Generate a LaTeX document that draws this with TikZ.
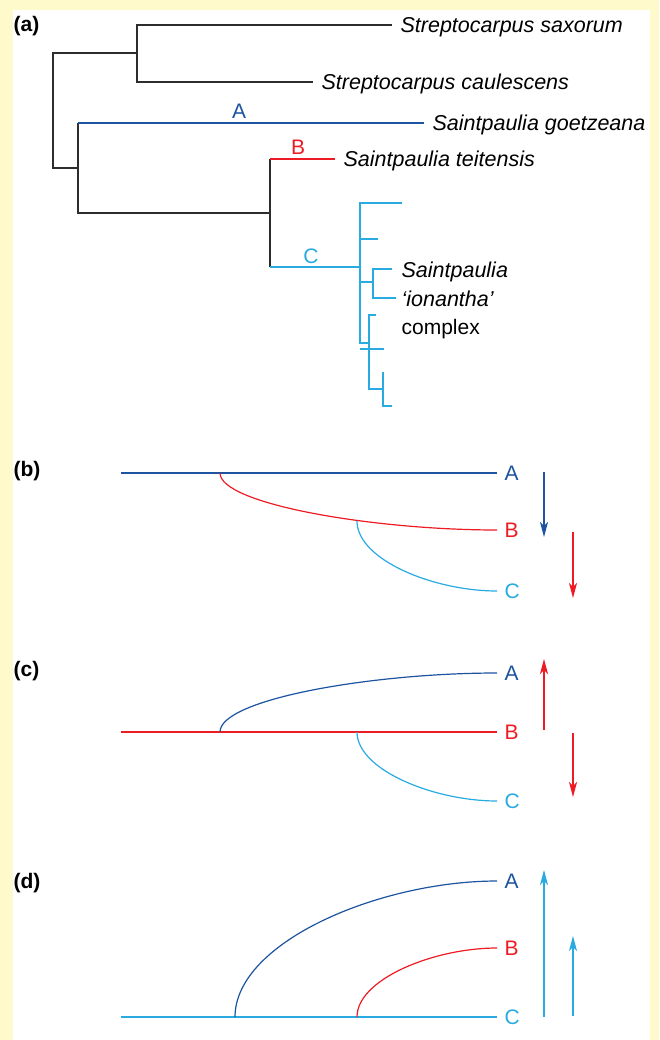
\documentclass[tikz,border=0pt]{standalone}
\usepackage{fontspec}
\setmainfont{Liberation Sans}
\usepackage{xcolor}
\definecolor{bgyellow}{RGB}{255,250,204}
\definecolor{cladeA}{RGB}{28,84,160}
\definecolor{cladeB}{RGB}{237,28,36}
\definecolor{cladeC}{RGB}{41,171,226}
\definecolor{treegray}{RGB}{45,45,45}
\usepackage{tikz}
\usetikzlibrary{arrows.meta}

\begin{document}
\begin{tikzpicture}[x=1pt,y=-1pt,every path/.style={line width=1.2pt},
  lbl/.style={anchor=west,inner xsep=7pt,inner ysep=0pt,text height=15pt,text depth=0pt,
    font=\fontsize{21}{25}\selectfont},
  taxon/.style={lbl,inner xsep=8pt,font=\fontsize{21.5}{26}\selectfont\itshape},
  cladelbl/.style={lbl,anchor=center,inner xsep=0pt},
  panel/.style={anchor=west,inner sep=0pt,text height=15pt,text depth=0pt,
    font=\fontsize{21}{25}\selectfont\bfseries},
  trend/.style={-{Stealth[length=15pt,width=8pt,inset=4pt]}}]
 \useasboundingbox (0,0) rectangle (659,1040);
 \fill[bgyellow] (0,0) rectangle (659,1040);
 \fill[white] (13,10) rectangle (650,1040);

 % (a) the tree
 \node[panel] (la) at (13,24) {(a)};
 \node[taxon] (saxorum) at (392,25) {Streptocarpus saxorum};
 \node[taxon] (caulescens) at (313,82) {Streptocarpus caulescens};
 \node[taxon] (goetzeana) at (424,123) {Saintpaulia goetzeana};
 \node[taxon] (teitensis) at (335,159) {Saintpaulia teitensis};
 \node[taxon] (ion1) at (393,270) {Saintpaulia};
 \node[taxon] (ion2) at (393,299) {‘ionantha’};
 \node[lbl,inner xsep=8pt] (ion3) at (393,327) {complex};
 \draw[treegray] (saxorum.west) -- (137,25) -- (137,82) -- (caulescens.west);
 \draw[treegray] (137,53) -- (53,53) -- (53,168) -- (78,168);
 \draw[treegray] (78,123) -- (78,213) -- (270,213);
 \draw[treegray] (270,159) -- (270,267);
 \draw[cladeA] (78,123) -- (goetzeana.west);
 \draw[cladeB] (270,159) -- (teitensis.west);
 \draw[cladeC] (270,267) -- (360,267);
 \node[cladelbl,text=cladeA] (tA) at (239,111) {A};
 \node[cladelbl,text=cladeB] (tB) at (298,147) {B};
 \node[cladelbl,text=cladeC] (tC) at (311,256) {C};
 \draw[cladeC] (402,203) -- (360,203) -- (360,343) -- (369,343);
 \foreach \Y/\X in {239/378,282/373,349/384}
   \draw[cladeC] (360,\Y) -- (\X,\Y);
 \draw[cladeC] (392,269) -- (373,269) -- (373,298) -- (396,298);
 \draw[cladeC] (376,315) -- (369,315) -- (369,389) -- (383,389);
 \draw[cladeC] (383,372) -- (383,406) -- (392,406);

 % (b)
 \node[panel] (lb) at (13,469) {(b)};
 \node[lbl,text=cladeA] (bA) at (497,473) {A};
 \node[lbl,text=cladeB] (bB) at (497,530) {B};
 \node[lbl,text=cladeC] (bC) at (497,591) {C};
 \draw[cladeA] (121,473) coordinate (b0) -- (bA.west);
 \draw[cladeB] (220,473) coordinate (b1) .. controls (220,504) and (373,530) .. (bB.west);
 \draw[cladeC] (357,521) coordinate (b2) .. controls (357,560) and (434,591) .. (bC.west);
 \draw[cladeA,trend] (544,472) coordinate (bs1) -- (544,537) coordinate (be1);
 \draw[cladeB,trend] (573,532) coordinate (bs2) -- (573,598) coordinate (be2);

 % (c)
 \node[panel] (lc) at (13,669) {(c)};
 \node[lbl,text=cladeA] (cA) at (497,673) {A};
 \node[lbl,text=cladeB] (cB) at (497,732) {B};
 \node[lbl,text=cladeC] (cC) at (497,801) {C};
 \draw[cladeB] (121,732) coordinate (c0) -- (cB.west);
 \draw[cladeA] (220,732) coordinate (c1) .. controls (220,699) and (373,673) .. (cA.west);
 \draw[cladeC] (357,732) coordinate (c2) .. controls (357,770) and (434,801) .. (cC.west);
 \draw[cladeB,trend] (544,730) coordinate (cs1) -- (544,659) coordinate (ce1);
 \draw[cladeB,trend] (573,733) coordinate (cs2) -- (573,797) coordinate (ce2);

 % (d)
 \node[panel] (ld) at (13,881) {(d)};
 \node[lbl,text=cladeA] (dA) at (497,881) {A};
 \node[lbl,text=cladeB] (dB) at (497,948) {B};
 \node[lbl,text=cladeC] (dC) at (497,1017) {C};
 \draw[cladeC] (121,1017) coordinate (d0) -- (dC.west);
 \draw[cladeA] (235,1017) coordinate (d1) .. controls (235,942) and (380,881) .. (dA.west);
 \draw[cladeB] (357,1017) coordinate (d2) .. controls (357,979) and (434,948) .. (dB.west);
 \draw[cladeC,trend] (544,1017) coordinate (ds1) -- (544,870) coordinate (de1);
 \draw[cladeC,trend] (573,1016) coordinate (ds2) -- (573,936) coordinate (de2);
\end{tikzpicture}
\end{document}
